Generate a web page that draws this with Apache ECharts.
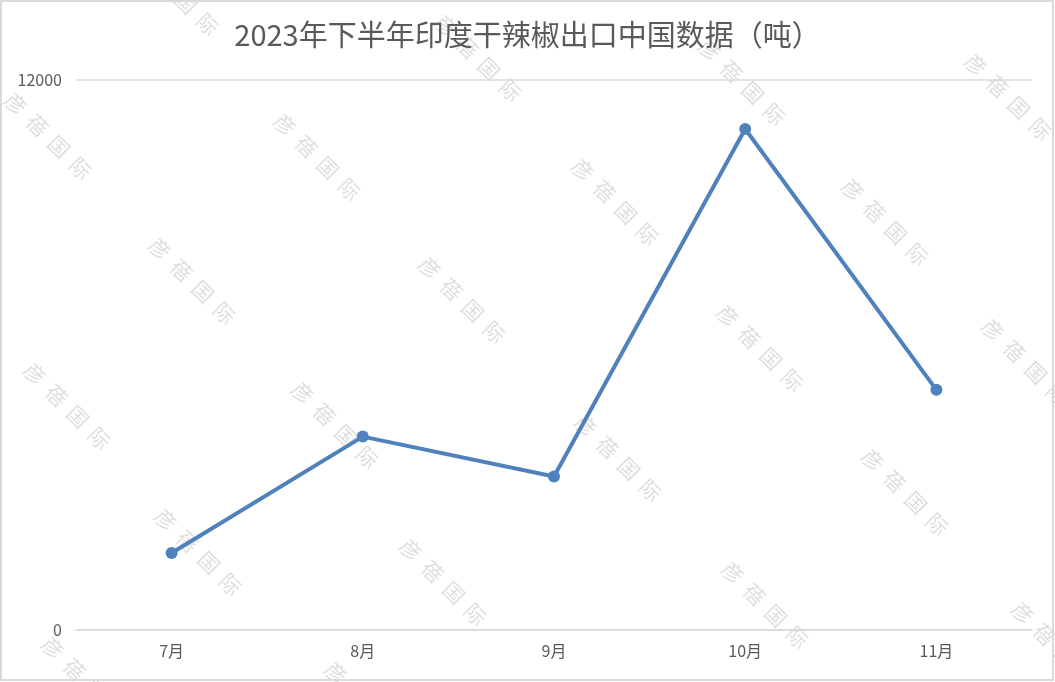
<!DOCTYPE html>
<html>
<head>
<meta charset="utf-8">
<script src="https://cdn.jsdelivr.net/npm/echarts@6/dist/echarts.min.js"></script>
<style>
html,body{margin:0;padding:0;background:#fff;}
#chart{width:1055px;height:682px;}
</style>
</head>
<body>
<div id="chart"></div>
<script>
var titleText = '2023年下半年印度干辣椒出口中国数据（吨）';
var categories = ['7月', '8月', '9月', '10月', '11月'];
var exportValues = [1680, 4220, 3350, 10930, 5240];
var yTicks = [0, 12000];
var watermarkText = '彦  蓓  国  际';
var watermarkCenters = [
  [175, -8], [478, 58], [742, 82], [1008, 97],
  [48, 136], [317, 157], [615, 202], [885, 222],
  [192, 281], [462, 300], [760, 348], [1025, 362],
  [67, 406], [335, 425], [618, 458], [905, 492],
  [198, 552], [443, 582], [765, 605], [1055, 645],
  [85, 680], [368, 705]
];

var font = '"Noto Sans CJK SC", "Noto Sans", sans-serif';
var chart = echarts.init(document.getElementById('chart'), null, {renderer: 'canvas'});

var graphics = [{
  type: 'rect',
  shape: {x: 1, y: 1, width: 1052, height: 679},
  style: {fill: null, stroke: '#d9d9d9', lineWidth: 2},
  z: 100, silent: true
}];
watermarkCenters.forEach(function (c) {
  graphics.push({
    type: 'text',
    x: c[0], y: c[1],
    rotation: -Math.PI / 4,
    style: {
      text: watermarkText,
      fontSize: 21,
      fontFamily: font,
      fill: '#dedede',
      align: 'center',
      verticalAlign: 'middle'
    },
    z: 0, silent: true
  });
});

chart.setOption({
  backgroundColor: '#fff',
  animation: false,
  title: {
    text: titleText,
    left: 'center',
    top: 15,
    textStyle: {color: '#595959', fontSize: 29, fontWeight: 'normal', fontFamily: font}
  },
  graphic: graphics,
  grid: {left: 76, right: 23, top: 80, bottom: 52},
  xAxis: {
    type: 'category',
    data: categories,
    boundaryGap: true,
    axisLine: {show: true, lineStyle: {color: '#d9d9d9', width: 1.5}},
    axisTick: {show: false},
    axisLabel: {color: '#595959', fontSize: 16, fontFamily: font, margin: 13}
  },
  yAxis: {
    type: 'value',
    min: yTicks[0],
    max: yTicks[yTicks.length - 1],
    interval: yTicks[1] - yTicks[0],
    axisLine: {show: false},
    axisTick: {show: false},
    axisLabel: {color: '#595959', fontSize: 16, fontFamily: font, margin: 14,
      formatter: function (v) { return String(v); }},
    splitLine: {show: true, lineStyle: {color: '#d9d9d9', width: 1.5}}
  },
  series: [{
    type: 'line',
    data: exportValues,
    symbol: 'circle',
    symbolSize: 12,
    lineStyle: {color: '#4f81bd', width: 4},
    itemStyle: {color: '#4f81bd'},
    z: 5
  }]
});
</script>
</body>
</html>
